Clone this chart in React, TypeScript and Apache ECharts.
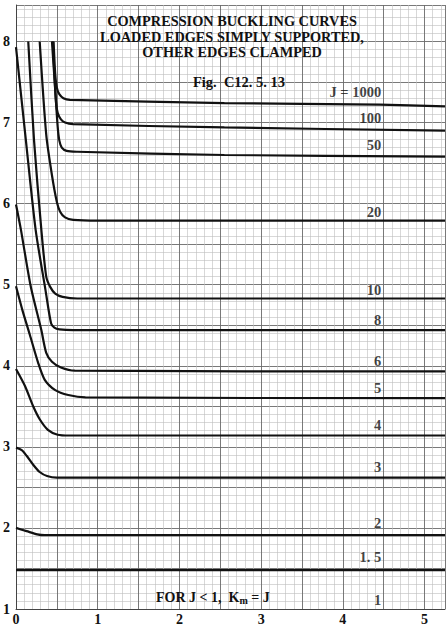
import React, { useEffect, useRef } from "react";
import * as echarts from "echarts";

// Curves: [x, Km] points, one array per J
const J1_5 = [[0, 1.48], [5.25, 1.48]];
const J2 = [[0, 2.0], [0.13, 1.96], [0.26, 1.92], [0.35, 1.91], [5.25, 1.91]];
const J3 = [[0, 2.99], [0.07, 2.96], [0.13, 2.89], [0.21, 2.78], [0.29, 2.69], [0.38, 2.64], [0.5, 2.62], [5.25, 2.62]];
const J4 = [[0, 3.96], [0.11, 3.75], [0.21, 3.5], [0.29, 3.34], [0.39, 3.21], [0.51, 3.15], [0.65, 3.14], [5.25, 3.14]];
const J5 = [[0, 4.98], [0.08, 4.68], [0.17, 4.38], [0.27, 4.04], [0.35, 3.83], [0.48, 3.7], [0.64, 3.64], [0.85, 3.61], [5.25, 3.6]];
const J6 = [[0, 5.99], [0.06, 5.68], [0.18, 4.98], [0.31, 4.44], [0.37, 4.16], [0.44, 4.05], [0.55, 3.98], [0.72, 3.94], [5.25, 3.93]];
const J8 = [[0, 7.93], [0.12, 6.79], [0.24, 5.68], [0.36, 4.94], [0.43, 4.52], [0.47, 4.47], [0.53, 4.45], [0.7, 4.44], [5.25, 4.44]];
const J10 = [[0.15, 8.0], [0.22, 6.79], [0.31, 5.68], [0.37, 5.1], [0.42, 4.97], [0.48, 4.89], [0.57, 4.85], [0.75, 4.83], [5.25, 4.83]];
const J20 = [[0.29, 8.0], [0.37, 6.85], [0.44, 6.35], [0.5, 6.02], [0.54, 5.9], [0.6, 5.83], [0.7, 5.8], [1, 5.79], [5.25, 5.79]];
const J50 = [[0.44, 8.0], [0.48, 7.4], [0.51, 6.95], [0.53, 6.78], [0.56, 6.69], [0.62, 6.65], [0.75, 6.64], [2.55, 6.6], [5.25, 6.58]];
const J100 = [[0.45, 8.0], [0.47, 7.6], [0.49, 7.25], [0.51, 7.12], [0.55, 7.04], [0.6, 7.0], [0.7, 6.98], [2.55, 6.94], [5.25, 6.9]];
const J1000 = [[0.46, 8.0], [0.48, 7.6], [0.5, 7.43], [0.53, 7.35], [0.58, 7.3], [0.66, 7.28], [2.55, 7.24], [4.45, 7.22], [5.25, 7.2]];

const curves = [J1_5, J2, J3, J4, J5, J6, J8, J10, J20, J50, J100, J1000];
const curveNames = ["1.5", "2", "3", "4", "5", "6", "8", "10", "20", "50", "100", "1000"];

// Curve labels and their anchor values (right edge of text, in data units)
const labelTexts = ["J = 1000", "100", "50", "20", "10", "8", "6", "5", "4", "3", "2", "1. 5", "1"];
const labelKm = [7.38, 7.06, 6.72, 5.9, 4.94, 4.56, 4.06, 3.73, 3.27, 2.75, 2.06, 1.64, 1.11];
const labelX = 4.47;

const titleLines = ["COMPRESSION BUCKLING CURVES", "LOADED EDGES SIMPLY SUPPORTED,", "OTHER EDGES CLAMPED"];
const figLabel = "Fig.  C12. 5. 13";

const SERIF = "'Liberation Serif', 'DejaVu Serif', serif";

export default function App() {
  const ref = useRef<HTMLDivElement>(null);
  useEffect(() => {
    const chart = echarts.init(ref.current!, null, { renderer: "svg" });
    const series: any[] = curves.map((d, i) => ({
      type: "line",
      name: "J=" + curveNames[i],
      data: d,
      smooth: 0.25,
      showSymbol: false,
      lineStyle: { color: "#111", width: 2.2 },
      z: 5,
    }));
    series.push({
      type: "scatter",
      symbolSize: 0,
      data: labelTexts.map((t, i) => ({ value: [labelX, labelKm[i]], name: t })),
      label: {
        show: true,
        position: "left",
        distance: 0,
        formatter: (p: any) => p.name,
        fontFamily: SERIF,
        fontWeight: "bold",
        fontSize: 14.5,
        color: "#111",
      },
      z: 6,
    });
    const titleGraphics: any[] = titleLines.map((t, i) => ({
      type: "text",
      x: 232,
      y: 21 + i * 15.5,
      style: {
        text: t,
        font: `bold 14.3px ${SERIF}`,
        fill: "#111",
        align: "center",
        verticalAlign: "middle",
      },
      z: 10,
    }));
    titleGraphics.push({
      type: "text",
      x: 239,
      y: 82,
      style: { text: figLabel, font: `bold 14.5px ${SERIF}`, fill: "#111", align: "center", verticalAlign: "middle" },
      z: 10,
    });
    titleGraphics.push({
      type: "text",
      x: 156,
      y: 597,
      style: {
        text: "{a|FOR J < 1,  K}{s|m}{a| = J}",
        rich: {
          a: { font: `bold 14px ${SERIF}`, fill: "#111" },
          s: { font: `bold 10px ${SERIF}`, fill: "#111", padding: [7, 0, 0, 0] },
        },
        align: "left",
        verticalAlign: "middle",
      },
      z: 10,
    });
    const axisCommon = {
      type: "value",
      interval: 0.5,
      axisLine: { show: true, lineStyle: { color: "#444", width: 1 } },
      axisTick: { show: false },
      minorTick: { show: false, splitNumber: 5 },
      splitLine: { show: true, lineStyle: { color: "#6a6a6a", width: 0.9 } },
      minorSplitLine: { show: true, lineStyle: { color: "#bdbdbd", width: 0.6 } },
    };
    const intFmt = (v: number) => (Math.abs(v - Math.round(v)) < 1e-6 ? String(Math.round(v)) : "");
    chart.setOption({
      animation: false,
      backgroundColor: "#fff",
      grid: { left: 16, right: 3, top: 5, bottom: 15, containLabel: false },
      xAxis: {
        ...axisCommon,
        min: 0,
        max: 5.25,
        axisLabel: {
          formatter: intFmt,
          fontFamily: SERIF,
          fontWeight: "bold",
          fontSize: 14,
          color: "#111",
          margin: 3,
          showMaxLabel: false,
        },
      },
      yAxis: {
        ...axisCommon,
        min: 1,
        max: 8.45,
        axisLabel: {
          formatter: intFmt,
          fontFamily: SERIF,
          fontWeight: "bold",
          fontSize: 14,
          color: "#111",
          margin: 6,
          showMaxLabel: false,
        },
      },
      graphic: titleGraphics,
      series,
    });
    return () => chart.dispose();
  }, []);
  return (
    <div
      ref={ref}
      style={{ position: "fixed", left: 0, top: 0, width: 448, height: 626, background: "#fff" }}
    />
  );
}
